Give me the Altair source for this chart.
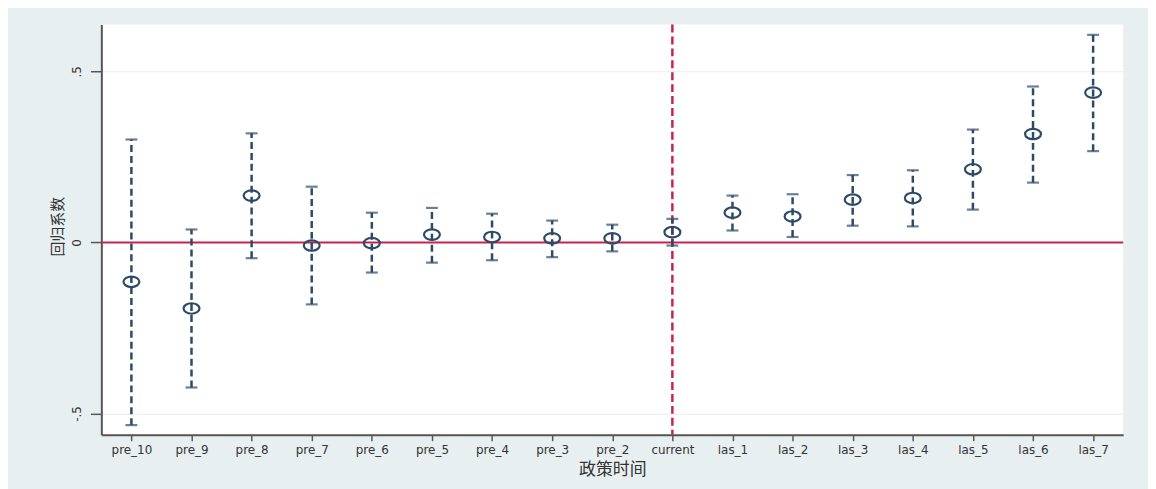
import altair as alt
import pandas as pd

# ---- data ----
labels = ["pre_10", "pre_9", "pre_8", "pre_7", "pre_6", "pre_5", "pre_4", "pre_3",
          "pre_2", "current", "las_1", "las_2", "las_3", "las_4", "las_5", "las_6", "las_7"]
coef = [-0.115, -0.193, 0.137, -0.009, -0.002, 0.023, 0.016, 0.012, 0.012, 0.030,
        0.087, 0.076, 0.125, 0.130, 0.214, 0.317, 0.438]
upper = [0.301, 0.038, 0.319, 0.163, 0.087, 0.101, 0.084, 0.064, 0.052, 0.069,
         0.137, 0.141, 0.197, 0.211, 0.330, 0.456, 0.607]
lower = [-0.534, -0.424, -0.046, -0.181, -0.088, -0.059, -0.052, -0.043, -0.026, -0.009,
         0.035, 0.016, 0.049, 0.047, 0.096, 0.175, 0.267]
y_ticks = [-0.5, 0, 0.5]
event_label = "current"
ref_value = 0

df = pd.DataFrame({"label": labels, "coef": coef, "upper": upper, "lower": lower})

NAVY = "#2c4a68"
RED = "#c8234f"
Y_DOMAIN = [-0.562, 0.637]

x_enc = alt.X("label:N", sort=labels,
              scale=alt.Scale(type="point", domain=labels, padding=0.5),
              axis=alt.Axis(title="政策时间", labelAngle=0, grid=False,
                            domainColor="#555555", domainWidth=2,
                            tickColor="#555555", tickWidth=1.5, tickSize=6,
                            labelPadding=4, labelFont="DejaVu Sans", labelFontSize=12,
                            labelColor="#333333",
                            titleFont="Noto Sans CJK SC", titleFontSize=17,
                            titleFontWeight="normal", titleColor="#333333",
                            titleY=35, titleBaseline="middle"))

y_scale = alt.Scale(domain=Y_DOMAIN, nice=False, zero=False)
y_axis = alt.Axis(title="回归系数", values=y_ticks,
                  labelExpr="replace(toString(datum.value), '0.', '.')",
                  labelAngle=270, labelAlign="center", labelBaseline="bottom",
                  labelPadding=7, labelFont="DejaVu Sans", labelFontSize=12,
                  labelColor="#333333",
                  grid=True, gridColor="#ececec", gridWidth=1,
                  domainColor="#555555", domainWidth=2,
                  tickColor="#555555", tickWidth=1.5, tickSize=11,
                  titleFont="Noto Sans CJK SC", titleFontSize=15,
                  titleFontWeight="normal", titleColor="#333333",
                  titleAngle=270, titleX=-44, titleY=203,
                  titleAlign="center", titleBaseline="middle")

base = alt.Chart(df)

zero_line = alt.Chart(pd.DataFrame({"y": [ref_value]})).mark_rule(
    color=RED, strokeWidth=2).encode(
    y=alt.Y("y:Q", scale=y_scale, axis=y_axis))

event_line = alt.Chart(pd.DataFrame({"label": [event_label]})).mark_rule(
    color=RED, strokeWidth=2.5, strokeDash=[8, 4]).encode(x=x_enc)

bars = base.mark_rule(color=NAVY, strokeWidth=2.5, strokeDash=[7, 4]).encode(
    x=x_enc,
    y=alt.Y("lower:Q", scale=y_scale, axis=y_axis),
    y2="upper:Q")

cap_hi = base.mark_tick(color=NAVY, size=12, thickness=2.2).encode(
    x=x_enc, y=alt.Y("upper:Q", scale=y_scale, axis=y_axis))
cap_lo = base.mark_tick(color=NAVY, size=12, thickness=2.2).encode(
    x=x_enc, y=alt.Y("lower:Q", scale=y_scale, axis=y_axis))

ellipse = "M-1,0 A1,0.66 0 1,1 1,0 A1,0.66 0 1,1 -1,0 Z"
points = base.mark_point(shape=ellipse, filled=False, color=NAVY, strokeWidth=2.2,
                         size=256, opacity=1).encode(
    x=x_enc, y=alt.Y("coef:Q", scale=y_scale, axis=y_axis))

chart = alt.layer(zero_line, event_line, bars, cap_hi, cap_lo, points).properties(
    width=1029, height=413,
    autosize=alt.AutoSizeParams(type="none"),
    padding={"left": 94, "top": 15, "right": 25, "bottom": 53},
    background="#e8eff1",
).configure_view(fill="white", stroke=None)

chart.save("out.html", embed_options={"renderer": "svg", "actions": False})
